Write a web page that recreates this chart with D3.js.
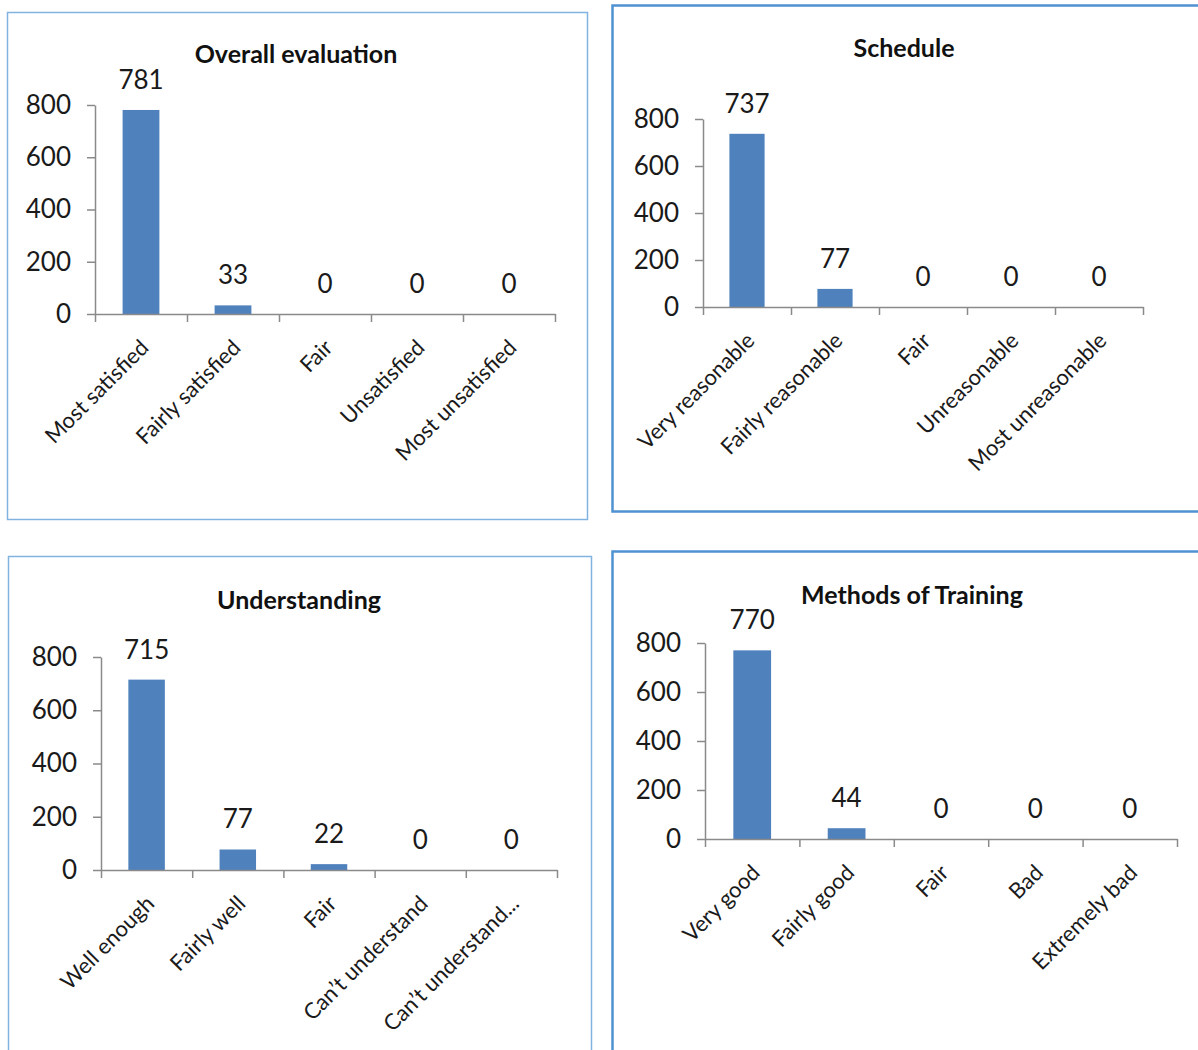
<!DOCTYPE html>
<html>
<head>
<meta charset="utf-8">
<script src="https://cdn.jsdelivr.net/npm/d3@7"></script>
<style>
    body { margin: 0; background: #fff; }
    svg { display: block; font-family: Lato, "Open Sans", sans-serif; }
    .axis path, .axis line { stroke: #8a8a8a; stroke-width: 1.5; }
    .axis text { fill: #1a1a1a; }
</style>
</head>
<body>
<div id="chart"></div>
<script>
// Survey results - four small bar charts

const titles = ['Overall evaluation', 'Schedule', 'Understanding', 'Methods of Training'];

const overallCategories = ['Most satisfied', 'Fairly satisfied', 'Fair', 'Unsatisfied', 'Most unsatisfied'];
const overallValues = [781, 33, 0, 0, 0];

const scheduleCategories = ['Very reasonable', 'Fairly reasonable', 'Fair', 'Unreasonable', 'Most unreasonable'];
const scheduleValues = [737, 77, 0, 0, 0];

const understandingCategories = ['Well enough', 'Fairly well', 'Fair', 'Can\u2019t understand', 'Can\u2019t understand...'];
const understandingValues = [715, 77, 22, 0, 0];

const methodsCategories = ['Very good', 'Fairly good', 'Fair', 'Bad', 'Extremely bad'];
const methodsValues = [770, 44, 0, 0, 0];

const yTicks = [0, 200, 400, 600, 800];

// Panel layout (frame, plot area, title anchor)
const panels = [
    { title: titles[0], cats: overallCategories, vals: overallValues,
      frame: [7.5, 12.5, 580, 507], frameColor: '#82b3e0', frameWidth: 1.5,
      plot: [95, 555, 105, 314], titleX: 296, titleY: 63 },
    { title: titles[1], cats: scheduleCategories, vals: scheduleValues,
      frame: [612.5, 5.5, 620, 506], frameColor: '#4f92d2', frameWidth: 2.5,
      plot: [703, 1143, 119, 307], titleX: 904, titleY: 57 },
    { title: titles[2], cats: understandingCategories, vals: understandingValues,
      frame: [8.5, 556.5, 583, 600], frameColor: '#82b3e0', frameWidth: 1.5,
      plot: [101, 557, 657, 870], titleX: 299, titleY: 609 },
    { title: titles[3], cats: methodsCategories, vals: methodsValues,
      frame: [612.5, 551.5, 620, 600], frameColor: '#4f92d2', frameWidth: 2.5,
      plot: [705, 1177, 643, 839], titleX: 912, titleY: 604 }
];

const svg = d3.select('#chart')
    .append('svg')
    .attr('width', 1198)
    .attr('height', 1050);

svg.append('rect')
    .attr('width', 1198)
    .attr('height', 1050)
    .style('fill', '#fff');

panels.forEach(p => {
    const [fx, fy, fw, fh] = p.frame;
    const [x0, x1, yTop, yBottom] = p.plot;
    const g = svg.append('g');

    // Frame
    g.append('rect')
        .attr('x', fx)
        .attr('y', fy)
        .attr('width', fw)
        .attr('height', fh)
        .style('fill', 'none')
        .style('stroke', p.frameColor)
        .style('stroke-width', p.frameWidth);

    // Scales
    const x = d3.scaleBand()
        .domain(p.cats)
        .range([x0, x1])
        .paddingInner(0.6)
        .paddingOuter(0.3);

    const xEdges = d3.scaleLinear()
        .domain([0, p.cats.length])
        .range([x0, x1]);

    const y = d3.scaleLinear()
        .domain([0, 800])
        .range([yBottom, yTop]);

    // Title
    g.append('text')
        .attr('x', p.titleX)
        .attr('y', p.titleY)
        .attr('text-anchor', 'middle')
        .style('font-size', '25px')
        .style('font-weight', 'bold')
        .style('fill', '#111')
        .text(p.title);

    // Bars
    g.selectAll('.bar')
        .data(p.vals)
        .enter()
        .append('rect')
        .attr('class', 'bar')
        .attr('x', (d, i) => x(p.cats[i]))
        .attr('y', d => y(d))
        .attr('width', x.bandwidth())
        .attr('height', d => y(0) - y(d))
        .style('fill', '#4f81bd');

    // Y axis
    const yAxis = g.append('g')
        .attr('class', 'axis')
        .attr('transform', `translate(${x0},0)`)
        .call(d3.axisLeft(y)
            .tickValues(yTicks)
            .tickSize(8)
            .tickSizeOuter(0)
            .tickPadding(16));
    yAxis.selectAll('text')
        .style('font-size', '26px')
        .style('font-family', 'Lato, sans-serif');

    // X axis (ticks between categories)
    g.append('g')
        .attr('class', 'axis')
        .attr('transform', `translate(0,${yBottom})`)
        .call(d3.axisBottom(xEdges)
            .tickValues(d3.range(p.cats.length + 1))
            .tickSize(8)
            .tickSizeOuter(0)
            .tickFormat(''));

    // Value labels
    g.selectAll('.value-label')
        .data(p.vals)
        .enter()
        .append('text')
        .attr('class', 'value-label')
        .attr('x', (d, i) => x(p.cats[i]) + x.bandwidth() / 2)
        .attr('y', d => y(d) - 21)
        .attr('text-anchor', 'middle')
        .style('font-size', '26px')
        .style('fill', '#1a1a1a')
        .text(d => d);

    // Category labels, rotated
    g.selectAll('.cat-label')
        .data(p.cats)
        .enter()
        .append('text')
        .attr('class', 'cat-label')
        .attr('transform', d => `translate(${x(d) + x.bandwidth() / 2 + 9},${yBottom + 35}) rotate(-45)`)
        .attr('text-anchor', 'end')
        .style('font-size', '22px')
        .style('fill', '#1a1a1a')
        .text(d => d);
});
</script>
</body>
</html>
